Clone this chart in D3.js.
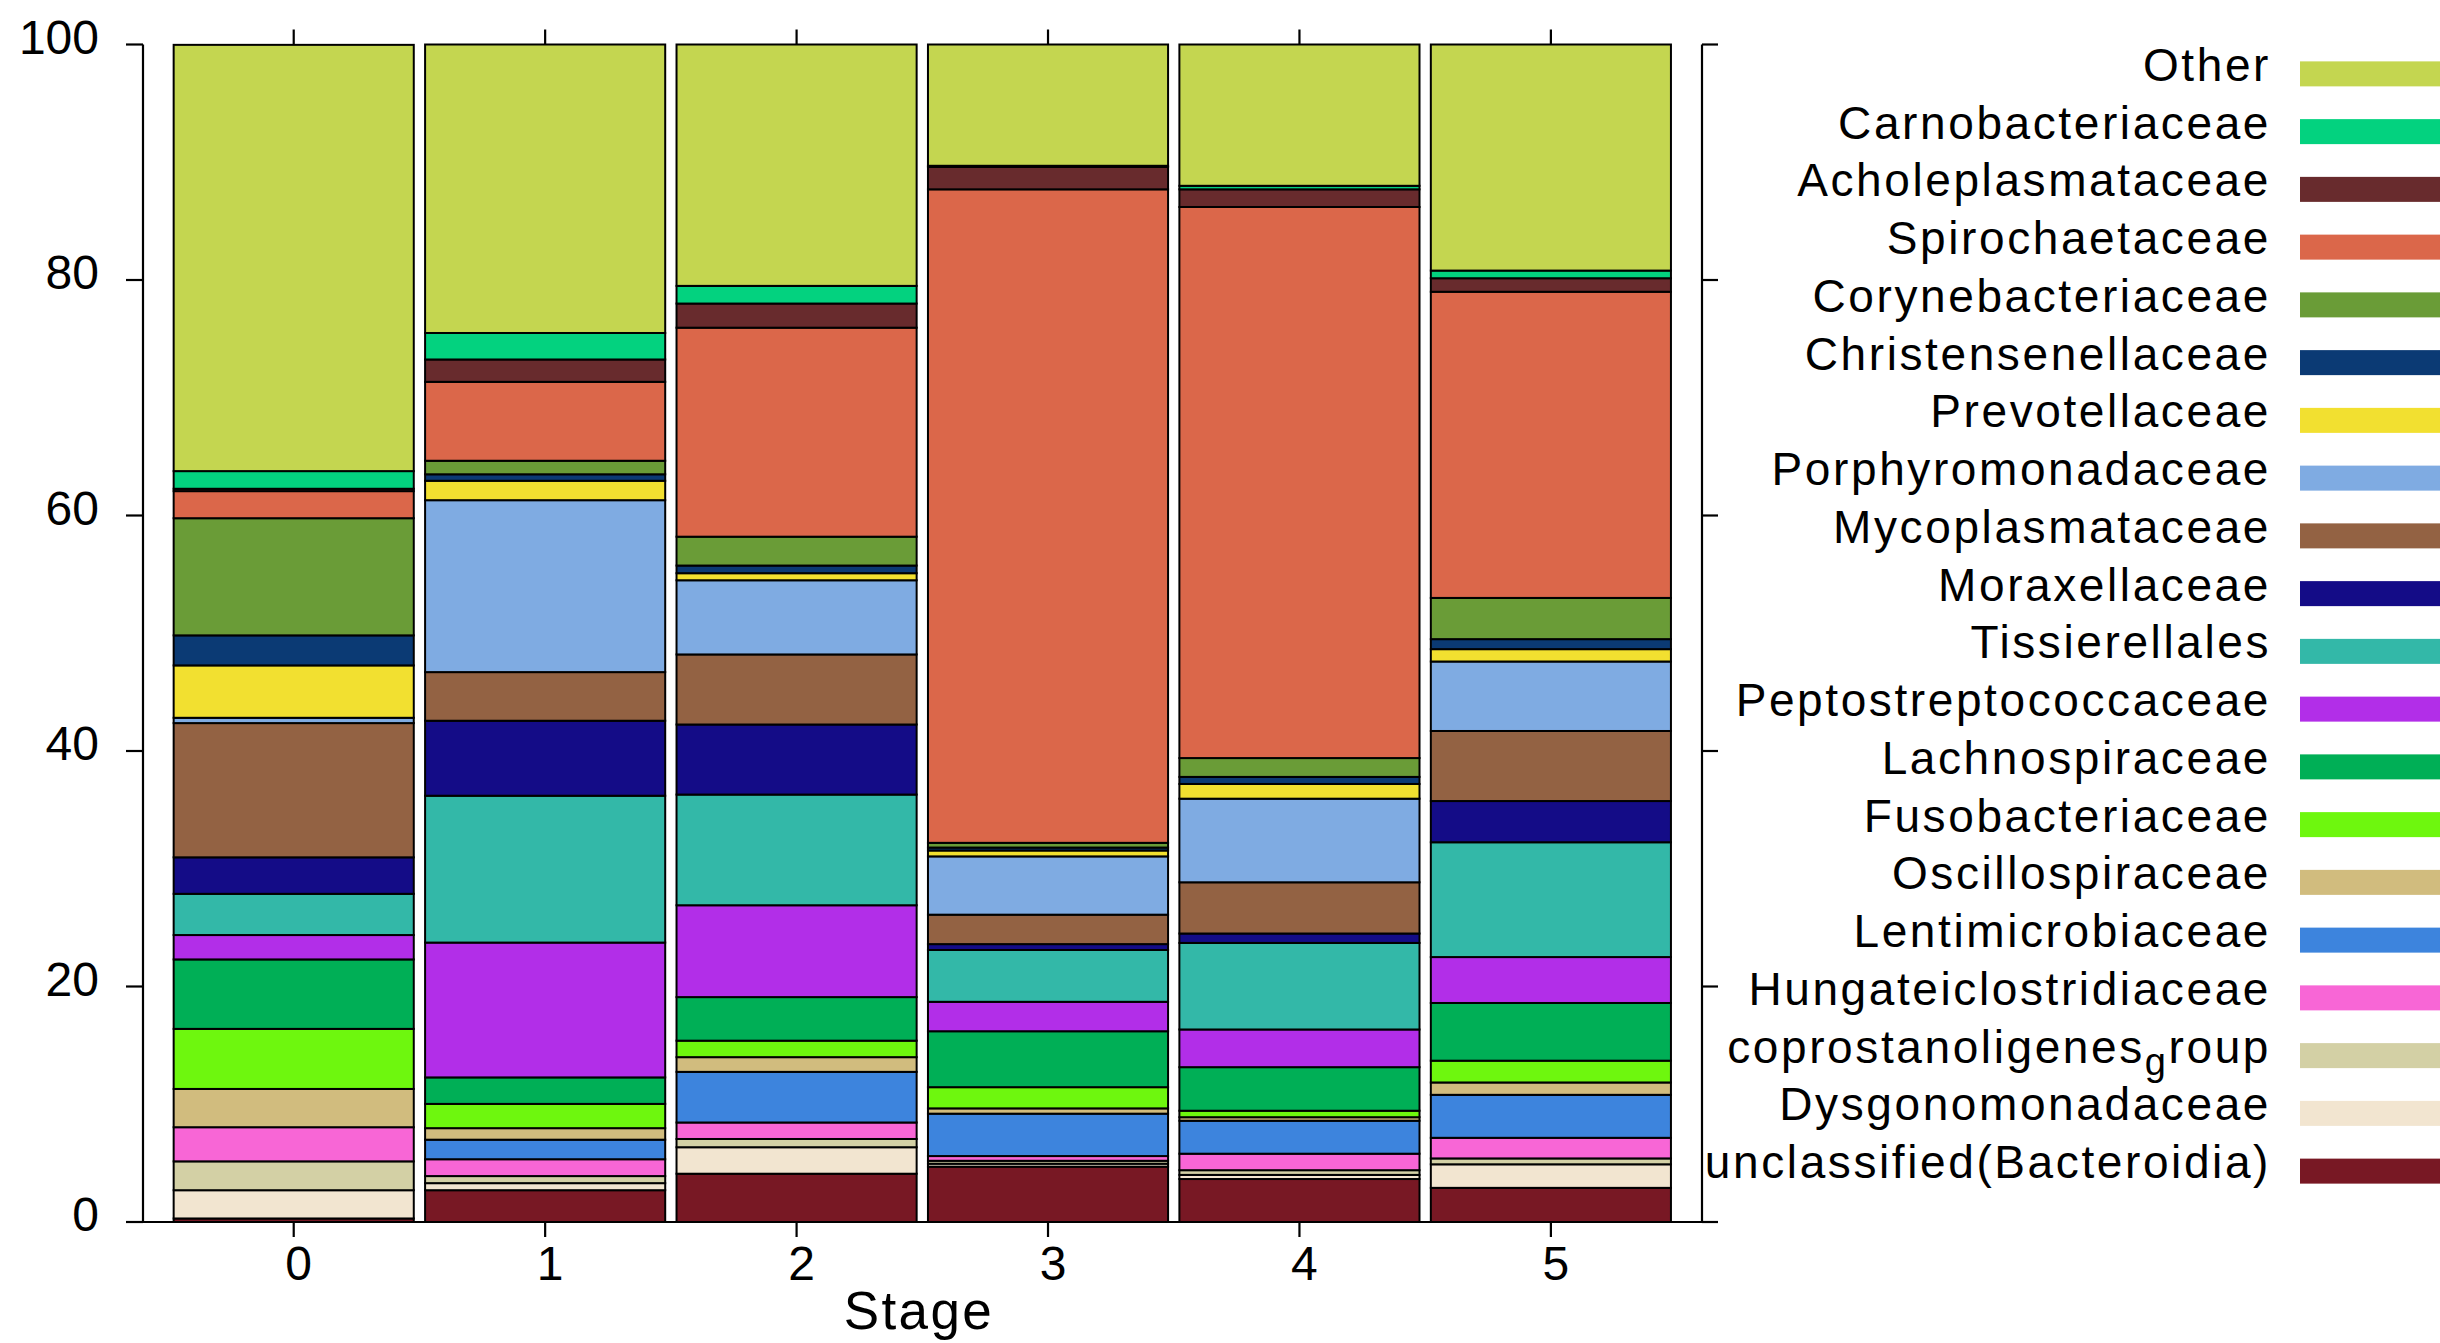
<!DOCTYPE html>
<html>
<head>
<meta charset="utf-8">
<script src="https://cdn.jsdelivr.net/npm/d3@7"></script>
<style>
  html, body { margin: 0; padding: 0; background: #fff; }
  svg { display: block; }
  text { font-family: "Liberation Sans", Arial, sans-serif; fill: #000; }
</style>
</head>
<body>
<svg id="chart" width="2440" height="1343"></svg>
<script>
// ---- data ----
const stages = ["0", "1", "2", "3", "4", "5"];
const yTicks = [0, 20, 40, 60, 80, 100];

// bottom -> top stacking order
const families = [
  "unclassified(Bacteroidia)", "Dysgonomonadaceae", "coprostanoligenes_group",
  "Hungateiclostridiaceae", "Lentimicrobiaceae", "Oscillospiraceae",
  "Fusobacteriaceae", "Lachnospiraceae", "Peptostreptococcaceae",
  "Tissierellales", "Moraxellaceae", "Mycoplasmataceae",
  "Porphyromonadaceae", "Prevotellaceae", "Christensenellaceae",
  "Corynebacteriaceae", "Spirochaetaceae", "Acholeplasmataceae",
  "Carnobacteriaceae", "Other"
];
const colors = [
  "#781824", "#f2e5d0", "#d3d0a5", "#f866d6", "#3d84dd", "#d1bc7e",
  "#6ef70e", "#00af56", "#b22ee8", "#33b8a8", "#140c87", "#936243",
  "#7fabe2", "#f2e030", "#0b3a74", "#6a9c37", "#db674a", "#682b2d",
  "#03d27f", "#c4d650"
];

// percentages per stage 0..5
const unclassifiedBacteroidia = [0.3, 2.7, 4.1, 4.7, 3.65, 2.9];
const dysgonomonadaceae       = [2.4, 0.6, 2.25, 0.25, 0.35, 2.0];
const coprostanoligenesGroup  = [2.45, 0.6, 0.7, 0.25, 0.4, 0.5];
const hungateiclostridiaceae  = [2.9, 1.43, 1.4, 0.4, 1.4, 1.75];
const lentimicrobiaceae       = [0, 1.66, 4.3, 3.6, 2.8, 3.65];
const oscillospiraceae        = [3.25, 0.98, 1.25, 0.45, 0.3, 1.05];
const fusobacteriaceae        = [5.1, 2.06, 1.4, 1.8, 0.55, 1.85];
const lachnospiraceae         = [5.9, 2.25, 3.7, 4.75, 3.7, 4.9];
const peptostreptococcaceae   = [2.07, 11.45, 7.8, 2.5, 3.2, 3.9];
const tissierellales          = [3.5, 12.47, 9.4, 4.4, 7.35, 9.75];
const moraxellaceae           = [3.1, 6.37, 5.95, 0.5, 0.8, 3.5];
const mycoplasmataceae        = [11.4, 4.13, 5.95, 2.5, 4.35, 5.95];
const porphyromonadaceae      = [0.45, 14.6, 6.3, 4.95, 7.1, 5.9];
const prevotellaceae          = [4.45, 1.65, 0.6, 0.5, 1.25, 1.05];
const christensenellaceae     = [2.55, 0.55, 0.65, 0.25, 0.6, 0.85];
const corynebacteriaceae      = [9.95, 1.15, 2.45, 0.4, 1.6, 3.5];
const spirochaetaceae         = [2.3, 6.7, 17.75, 55.5, 46.8, 26.0];
const acholeplasmataceae      = [0.2, 1.9, 2.05, 1.9, 1.5, 1.15];
const carnobacteriaceae       = [1.5, 2.25, 1.5, 0.1, 0.3, 0.65];
const other                   = [36.2, 24.5, 20.5, 10.3, 12.0, 19.2];

const seriesValues = [
  unclassifiedBacteroidia, dysgonomonadaceae, coprostanoligenesGroup,
  hungateiclostridiaceae, lentimicrobiaceae, oscillospiraceae,
  fusobacteriaceae, lachnospiraceae, peptostreptococcaceae,
  tissierellales, moraxellaceae, mycoplasmataceae,
  porphyromonadaceae, prevotellaceae, christensenellaceae,
  corynebacteriaceae, spirochaetaceae, acholeplasmataceae,
  carnobacteriaceae, other
];

// ---- build table ----
const table = stages.map((s, i) => {
  const row = { stage: s };
  families.forEach((f, j) => { row[f] = seriesValues[j][i]; });
  return row;
});

const svg = d3.select("#chart");

const x = d3.scaleBand().domain(stages).range([168, 1676.6])
  .paddingInner(0.045).paddingOuter(0.0225);
const y = d3.scaleLinear().domain([0, 100]).range([1222, 44.5]);
const color = d3.scaleOrdinal().domain(families).range(colors);

const stack = d3.stack().keys(families);
const layers = stack(table);

// bars
const g = svg.append("g");
g.selectAll("g.layer").data(layers).join("g")
  .attr("class", "layer")
  .attr("fill", d => color(d.key))
  .selectAll("rect").data(d => d).join("rect")
  .attr("x", d => x(d.data.stage))
  .attr("width", x.bandwidth())
  .attr("y", d => y(d[1]))
  .attr("height", d => Math.max(0, y(d[0]) - y(d[1])))
  .attr("stroke", "#000")
  .attr("stroke-width", 2);

// axes
const axisLeftX = 143, axisRightX = 1702;
const ax = svg.append("g").attr("stroke", "#000").attr("stroke-width", 2.2).attr("fill", "none");
ax.append("line").attr("x1", axisLeftX).attr("x2", axisLeftX).attr("y1", y(100)).attr("y2", y(0));
ax.append("line").attr("x1", axisRightX).attr("x2", axisRightX).attr("y1", y(100)).attr("y2", y(0));
ax.append("line").attr("x1", axisLeftX - 17).attr("x2", axisRightX + 16).attr("y1", y(0)).attr("y2", y(0));

yTicks.forEach(t => {
  ax.append("line").attr("x1", axisLeftX - 17).attr("x2", axisLeftX).attr("y1", y(t)).attr("y2", y(t));
  ax.append("line").attr("x1", axisRightX).attr("x2", axisRightX + 16).attr("y1", y(t)).attr("y2", y(t));
});
stages.forEach(s => {
  const cx = x(s) + x.bandwidth() / 2;
  ax.append("line").attr("x1", cx).attr("x2", cx).attr("y1", y(0)).attr("y2", y(0) + 15);
  ax.append("line").attr("x1", cx).attr("x2", cx).attr("y1", y(100)).attr("y2", y(100) - 15);
});

// tick labels
svg.append("g").selectAll("text").data(yTicks).join("text")
  .attr("x", 99).attr("y", d => y(d) + 9)
  .attr("text-anchor", "end")
  .style("font-size", "48px")
  .text(d => d);

svg.append("g").selectAll("text").data(stages).join("text")
  .attr("x", d => x(d) + x.bandwidth() / 2 + 5)
  .attr("y", 1280)
  .attr("text-anchor", "middle")
  .style("font-size", "48px")
  .text(d => d);

svg.append("text")
  .attr("x", 919).attr("y", 1329)
  .attr("text-anchor", "middle")
  .style("font-size", "53px")
  .style("letter-spacing", "2.4px")
  .text("Stage");

// legend (top -> bottom is reverse of stack)
const legendItems = families.slice().reverse();
const ly = d3.scaleBand().domain(legendItems).range([45, 45 + 57.75 * 20]);
const lg = svg.append("g");
legendItems.forEach(f => {
  const cy = ly(f) + ly.bandwidth() / 2;
  lg.append("rect")
    .attr("x", 2300).attr("y", cy - 12.5)
    .attr("width", 160).attr("height", 25)
    .attr("fill", color(f));
  const t = lg.append("text")
    .attr("x", 2271).attr("y", cy + 7)
    .attr("text-anchor", "end")
    .style("font-size", "46px")
    .style("letter-spacing", "2.6px");
  if (f === "coprostanoligenes_group") {
    t.append("tspan").text("coprostanoligenes");
    t.append("tspan").attr("dy", 12).style("font-size", "38px").text("g");
    t.append("tspan").attr("dy", -12).text("roup");
  } else {
    t.text(f);
  }
});
</script>
</body>
</html>
